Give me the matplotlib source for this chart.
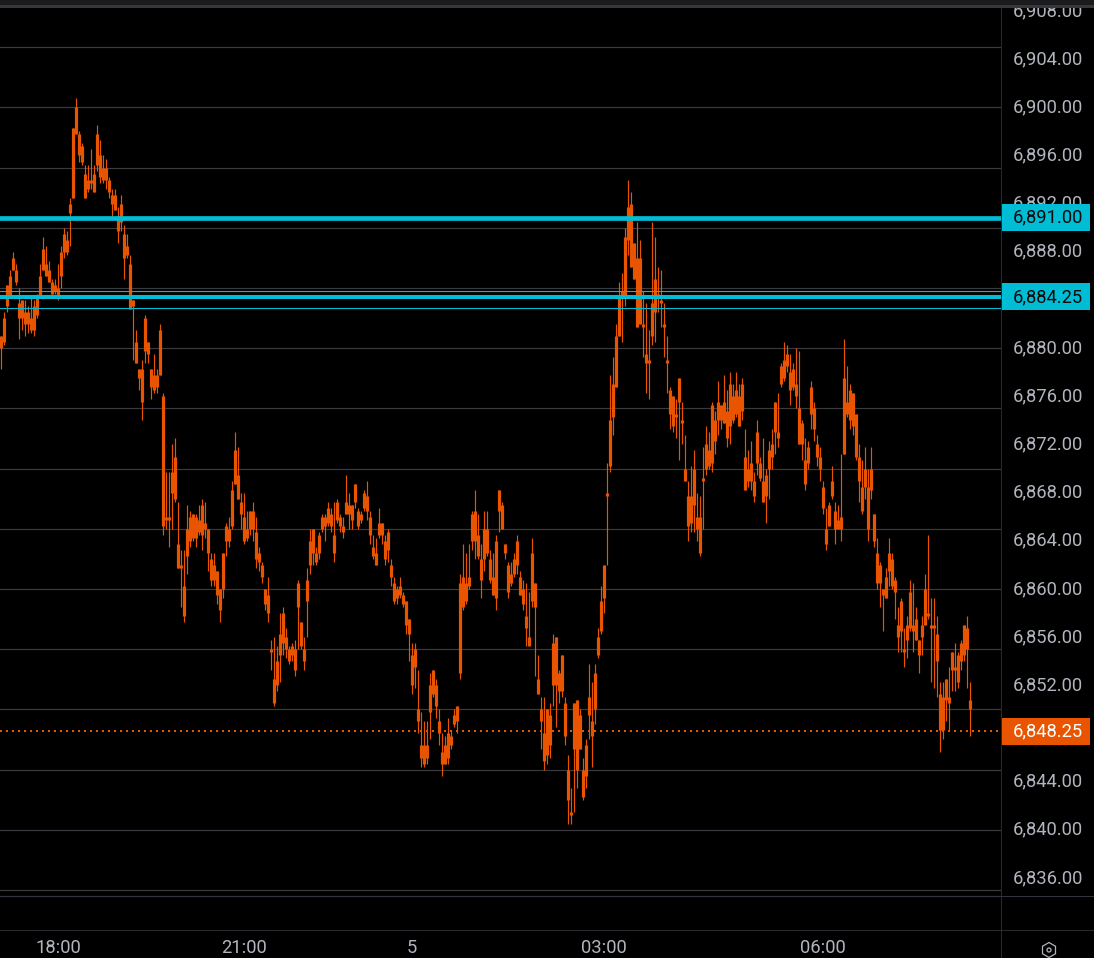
import numpy as np
import matplotlib
matplotlib.use('Agg')
import matplotlib.pyplot as plt
from matplotlib.patches import Rectangle, RegularPolygon, Circle
from matplotlib.transforms import IdentityTransform, blended_transform_factory

# prices are stored as points above this level
base_price = 6800

high = [
    81, 83, 85.25, 86.5, 88, 87, 85, 84, 84, 83.5,
    84.25, 84, 84.5, 87, 89.25, 88.5, 87.25, 85.75, 85.75, 87,
    88.5, 90, 89.75, 92.5, 98.25, 100.75, 98, 97, 95.25, 95.25,
    96.5, 95.25, 98.5, 97.25, 96, 95.75, 94.25, 93.25, 93.25, 91.75,
    92.75, 90.25, 89.5, 87.75, 84, 81.5, 78.25, 79, 82.75, 80.5,
    78.25, 79.5, 78.25, 82, 76.25, 69.75, 69.75, 72, 72.5, 67.25,
    63.25, 63.25, 67, 66.5, 66.25, 66.25, 67, 67.5, 67.25, 65,
    63, 63, 61.5, 60, 63, 65.5, 66, 69, 73, 71.75,
    68, 68, 66.5, 66.5, 67.25, 66, 63.5, 62.25, 60, 61,
    55.75, 56, 55.25, 58, 58.5, 56.75, 55.25, 55.5, 55.75, 60.75,
    57.25, 56, 61.75, 65, 65, 63.5, 64.75, 66.25, 66.25, 67.25,
    66.75, 67.25, 67.5, 66.25, 66, 69.5, 68, 67, 68.75, 66.75,
    66.5, 68.25, 69, 66.5, 64.5, 64.25, 66.75, 65.5, 64.5, 65,
    62.5, 61, 60.25, 61, 59.75, 59, 57.5, 55.5, 55.5, 53.25,
    49.75, 49, 49, 53, 53.25, 52.5, 50, 48, 47.75, 49.25,
    48.25, 50, 50.25, 61.25, 63.75, 63, 63.75, 66.5, 68.25, 66.25,
    63.75, 66.5, 66.5, 63.25, 63, 64.5, 68.25, 67.25, 63.75, 62.25,
    62.25, 63, 64.5, 61.5, 60.75, 60.5, 59.75, 64.25, 60.5, 54.5,
    51, 51, 50, 50.5, 56.25, 56, 53.25, 54.5, 51, 46.25,
    43.5, 50.5, 50.75, 50, 46, 47.5, 53.75, 52.25, 53.75, 56.75,
    60.25, 62, 70.5, 77.75, 79.25, 82, 85.5, 86.25, 90, 94,
    93, 88.75, 90.5, 89, 84.75, 83.75, 81.5, 90.5, 89.25, 86.75,
    86.5, 83.75, 81, 76.75, 76, 75.75, 77.5, 75.5, 72.75, 69,
    70.25, 71.5, 68, 67.75, 71.75, 73.5, 73, 75.5, 74.75, 77.25,
    75.25, 77.75, 76.5, 78, 77, 78, 77, 77.5, 73.25, 71.5,
    72.25, 69.75, 74, 71, 72.5, 70, 72.25, 73.25, 75.5, 76.25,
    78.75, 80.5, 80.25, 79.5, 78.75, 80, 79.75, 74, 72.5, 72.25,
    77.25, 75.5, 72.75, 71.75, 69, 66.75, 67.25, 70.25, 67.25, 67,
    71.25, 80.75, 78.5, 77, 76.25, 74.5, 72, 70.75, 71.75, 70,
    71.75, 66.25, 64.25, 62.25, 60, 61.75, 64.25, 63, 61, 58.5,
    59.25, 56.75, 57.75, 60.75, 60.5, 58.5, 55.75, 57.75, 61.25, 64.5,
    59.25, 59.25, 57.75, 52.25, 52.25, 52.5, 53.5, 54.75, 55.5, 54.75,
    55.75, 57, 57.75, 52.25,
]

low = [
    78.25, 80.25, 83, 84.25, 86.5, 85.25, 80.75, 81.5, 81, 81.25,
    81.25, 81, 82.5, 84.25, 86.5, 86, 85.5, 84.5, 84.5, 84,
    85, 87.5, 87.75, 88.5, 92.5, 97.75, 95.5, 95.25, 92.5, 93,
    93.25, 93, 94.75, 93.75, 93.75, 93.25, 92.5, 91, 91.5, 88.75,
    89.75, 85.75, 87.5, 83.25, 79, 78.75, 76.5, 74, 78.75, 78.75,
    75.75, 76.25, 76.25, 77.75, 64.5, 65, 63.5, 65, 67.25, 61.75,
    58.5, 57.25, 61.25, 63.5, 64, 63.5, 64.5, 63.25, 64.25, 61.5,
    60.25, 60.25, 58.75, 57.25, 59.25, 62.75, 63.5, 65, 68.75, 67.5,
    65, 63.75, 64, 64.5, 64, 61.75, 61.5, 60.5, 58.25, 57.25,
    53.25, 50.25, 51.5, 52.25, 54.5, 54.25, 53.75, 54, 52.75, 55,
    55, 53.25, 56, 61.25, 62, 62, 62.5, 64.75, 64, 65.25,
    64.75, 62.25, 65.5, 64.75, 64.25, 66.25, 65, 65, 66.75, 65,
    65.5, 66.5, 65.75, 63.75, 62.5, 62, 64.25, 63.75, 62, 62.25,
    60.25, 58.75, 58.75, 59.25, 58.5, 56.25, 54, 51.25, 51.75, 48,
    45.25, 45.25, 45.5, 47.5, 51, 49.25, 47, 44.5, 45.5, 45.5,
    46.75, 48.5, 48, 52.5, 58.25, 58.75, 60, 63.25, 62.5, 62.5,
    59.25, 61.5, 62.75, 60.5, 59.5, 58.25, 64.75, 65, 62.5, 59.25,
    60.25, 61, 61.25, 59.5, 58.25, 55.25, 55.5, 58.5, 52.75, 51.25,
    46.75, 45, 45.5, 46, 50.25, 48.5, 50.5, 51, 47, 40.5,
    40.5, 41.5, 43.5, 46.75, 42.5, 43.5, 47.5, 45.25, 48.75, 54.25,
    56.25, 58, 62, 69.75, 72.75, 76.75, 81, 80.5, 83.5, 87.75,
    86.75, 85.75, 81.75, 82, 79.25, 76.25, 75.75, 80.25, 80.5, 83,
    81.75, 79.25, 76.25, 73.25, 73, 72.5, 70.75, 72, 69, 64,
    64.75, 64.75, 64, 62.75, 65, 69.5, 70, 69.75, 71.25, 72.75,
    73.25, 73.75, 71.75, 72, 73.75, 74.25, 73.5, 74, 68.25, 68.5,
    68.25, 67.25, 69.5, 69, 67.25, 65.5, 67.5, 70, 71.25, 71.75,
    76.75, 77.25, 78, 75.25, 76.5, 75, 72, 70.75, 68.25, 70,
    73.25, 72.25, 70.25, 69, 66.25, 63.25, 65.25, 67.5, 63.75, 65,
    64, 71.25, 74.25, 73.25, 72.75, 70.75, 67.25, 66.25, 67.5, 64,
    67.5, 63.5, 60, 58.5, 56.5, 59.25, 60.25, 60, 57.5, 54.75,
    54.75, 53.5, 54.25, 56.5, 54.75, 55.75, 53, 54.5, 57, 57.5,
    52.25, 51.75, 51, 46.5, 47.5, 49, 48.25, 51.5, 51.5, 51.75,
    53.25, 54, 51.75, 47.75,
]

body_top = [
    81, 82.5, 85.25, 86, 87.5, 86.5, 83.75, 84, 83, 83,
    82.5, 83.5, 84.25, 86, 88.25, 87, 86.5, 85.5, 85.25, 85,
    88, 89.5, 89, 92, 98.25, 100, 97.75, 96.75, 94.5, 94,
    94, 94.5, 97.75, 96, 95, 95, 94, 92.75, 92.75, 91,
    92, 89.5, 88.5, 87, 84, 80.5, 78.25, 78.25, 82.5, 80.5,
    78.25, 77.75, 77.75, 81.5, 76, 66, 66, 69.75, 71, 63.75,
    62, 60.25, 65, 66, 66.25, 66, 65.75, 67, 65.5, 65,
    62.5, 62, 61.5, 60, 63, 65.25, 65, 68.25, 71.5, 69.5,
    67.25, 66, 65, 66.5, 66.5, 64.75, 63, 62, 60, 59.5,
    55, 52.5, 54, 56.25, 58, 56, 55, 55.25, 55, 60.5,
    57.25, 55, 60.75, 64, 65, 63, 64.5, 66, 66, 66.75,
    66.25, 64.5, 67.25, 66, 65.25, 67.25, 67, 67, 68.75, 66.5,
    66.25, 68, 67.75, 66, 63.5, 63, 65.5, 65.5, 64, 64.75,
    62, 60.5, 60, 60.25, 59.5, 59, 57.5, 54.5, 55, 50,
    47, 47, 47, 52, 53.25, 52, 49, 46.5, 47, 48,
    47.75, 49.5, 50.25, 60.5, 61, 60.5, 61, 66.25, 66.5, 64.5,
    62.5, 65, 65, 62.5, 61, 64, 68.25, 67, 63.75, 62,
    61.25, 62.5, 64, 61, 60, 57.75, 56, 63, 60.5, 52.5,
    50, 48, 50, 49.5, 55.5, 56, 53, 54.5, 50.5, 45,
    41.5, 50.5, 50.75, 49.5, 45, 47, 51, 49, 53, 56,
    59, 62, 68, 74, 77, 81, 84.25, 84.75, 89.25, 91.75,
    92, 88.75, 87.5, 87.5, 82, 79.5, 79, 83.75, 85.75, 84.5,
    84, 82, 79, 76.5, 76, 74.5, 77.5, 74, 70, 67.75,
    67.75, 70, 66, 66, 69.25, 72, 71.5, 75.25, 74, 75.5,
    75.25, 75.5, 74.75, 77, 76, 76.5, 76, 77, 71, 70,
    70.5, 69, 73, 70.5, 69, 69.5, 71.5, 72, 75.5, 73,
    78.5, 79, 79.5, 78, 78.25, 77, 75, 73.75, 70.75, 71.75,
    76.75, 75, 72, 71, 68.5, 65, 67, 69, 66.5, 65.75,
    66, 77.5, 75.5, 76.5, 76.25, 74.5, 71, 68.5, 70, 68.5,
    70, 66.25, 63, 62, 60, 61, 63, 62.5, 60.75, 57,
    59, 55, 57, 59.75, 57, 57.5, 55.75, 57, 60, 58,
    57, 57, 56.25, 51.25, 51, 52.5, 51, 54.75, 53.5, 54.5,
    55.5, 57, 56.75, 50.75,
]

body_bottom = [
    80, 80.5, 83.5, 84.25, 86.5, 85.5, 82.5, 82.5, 82, 82,
    81.5, 81.5, 82.75, 84.25, 86.5, 86, 85.5, 84.5, 84.75, 84.25,
    86, 88, 88, 91.25, 92.5, 97.75, 96, 95.5, 92.5, 93.25,
    93.75, 93, 95.25, 94.25, 94, 94, 93, 92, 91.5, 89.75,
    90.5, 87.5, 87.75, 83.25, 83.5, 78.75, 77.5, 75.5, 79.75, 79.5,
    76.75, 76.5, 76.75, 77.75, 65.25, 65.75, 65.75, 68, 67.5, 61.75,
    61.75, 57.75, 62.75, 64, 64.25, 64.25, 64.75, 64.5, 65, 63,
    60.75, 60.75, 59.5, 58.25, 60, 64, 64, 65.25, 68.75, 67.5,
    66.25, 64, 64.25, 65, 65, 62.5, 62.25, 61, 58.75, 58,
    54.75, 50.5, 52, 54.5, 55.5, 55, 54, 54.5, 53.25, 58.5,
    55.25, 54, 59, 62, 63, 62.25, 63, 65, 65.25, 65.5,
    65.25, 63, 65.75, 65.25, 64.75, 66.25, 66.25, 65.75, 67.25, 65.25,
    65.75, 66.75, 66.5, 64.5, 62.75, 62, 64.5, 64.5, 62.5, 63.25,
    61, 59, 59.25, 59.5, 58.75, 57, 56.25, 52, 53.5, 49,
    46, 45.5, 46, 49.75, 51.25, 50.25, 48, 45.5, 45.5, 46,
    47, 48.75, 49, 53, 58.5, 59, 60.25, 64, 64, 62.75,
    60.75, 62.5, 63, 60.75, 59.5, 59.25, 66.5, 65, 63, 59.75,
    60.5, 61.25, 62, 59.5, 58.75, 56.75, 55.25, 59, 58.5, 51.25,
    49, 45.75, 46.25, 47, 52, 52, 51.5, 51.5, 47.75, 42.5,
    41.25, 46.75, 45, 46.75, 42.75, 44.5, 49.5, 47.75, 50, 54.5,
    56.5, 59.25, 67.75, 70.25, 74.25, 76.75, 81, 84.25, 84.25, 89,
    86.75, 85.75, 81.75, 82, 81.75, 78.75, 78.75, 81, 83, 84.25,
    83.75, 81.75, 78.75, 74.5, 73.5, 74.25, 75.5, 73.75, 69, 65.25,
    65.5, 67, 65, 63, 69, 70, 70.25, 70.5, 72.25, 74,
    74, 73.75, 72.5, 73.5, 74, 74.5, 73.5, 74.75, 68.25, 69,
    69, 67.75, 70.5, 69.25, 67.25, 67.75, 70, 71, 73, 72.5,
    77, 77.5, 78.5, 76.5, 76.75, 76, 72, 72, 68.75, 70.5,
    74.5, 73.25, 71, 70, 66.75, 63.75, 65.25, 67.75, 65, 65,
    65, 71.25, 74.5, 74, 73.5, 71, 69, 66.5, 68.5, 65,
    68.25, 64, 60.5, 60.5, 59.5, 59.25, 61.5, 60.25, 59.75, 56,
    56.5, 54.75, 55.75, 56.75, 56.5, 55.75, 54.5, 56, 57, 57.75,
    56.75, 56.75, 54, 48.25, 48.25, 50.75, 50.5, 53.25, 53.25, 52.25,
    54, 54.5, 55, 50,
]

price_ticks = list(range(6836, 6912, 4))
grid_levels = list(range(6835, 6910, 5))
time_ticks = [19, 81, 137, 201, 274]
time_labels = ['18:00', '21:00', '5', '03:00', '06:00']
thick_levels = [6890.85, 6884.25]
thin_levels = [6884.75, 6883.35]
tag_levels = [6890.85, 6884.25, 6848.2]
tag_labels = ['6,891.00', '6,884.25', '6,848.25']

orange = '#e85400'
cyan = '#00bcd4'
grid_col = '#3a3a40'
text_col = '#b2b5be'
pane_line = '#2a2a2e'

plt.rcParams['font.family'] = ['Roboto', 'DejaVu Sans']

W, H = 1094, 958
fig = plt.figure(figsize=(W / 100, H / 100), dpi=100, facecolor='black')
ax = fig.add_axes([0, 1 - 896 / H, 1001 / W, 888 / H], facecolor='black')

x = np.arange(len(high))
ax.vlines(x, base_price + np.array(low), base_price + np.array(high),
          color=orange, lw=0.85, zorder=2)
ax.vlines(x, base_price + np.array(body_bottom), base_price + np.array(body_top),
          color=orange, lw=2.3, zorder=2)

for lev in grid_levels:
    ax.axhline(lev, color=grid_col, lw=0.85, zorder=1)
for lev in thick_levels:
    ax.axhline(lev, color=cyan, lw=3.4 if lev > 6890 else 2.9, zorder=3)
for lev in thin_levels:
    ax.axhline(lev, color=cyan, lw=0.8, zorder=3)
ax.axhline(tag_levels[2], color=orange, lw=1.44, ls=(0, (1, 2)), zorder=3)

ax.set_xlim(-1 / 3, 1000 / 3)
ax.set_ylim(6834.5, 6908.25)
ax.yaxis.tick_right()
ax.set_yticks(price_ticks)
ax.set_yticklabels([f'{p:,.2f}' for p in price_ticks], va='center')
ax.set_xticks(time_ticks)
ax.set_xticklabels(time_labels)
ax.tick_params(axis='y', length=0, pad=8.5, labelsize=13.2, labelcolor=text_col)
ax.tick_params(axis='x', length=0, pad=31, labelsize=13.2, labelcolor=text_col)
for side in ['top', 'left', 'right']:
    ax.spines[side].set_visible(False)
ax.spines['bottom'].set_color('#3a3a45')
ax.spines['bottom'].set_linewidth(0.85)

# price tags sit on top of the axis labels
trans = blended_transform_factory(ax.transAxes, ax.transData)
for lev, lab, face, col in zip(tag_levels, tag_labels, [cyan, cyan, orange],
                               ['#0b0b0b', '#0b0b0b', '#ffffff']):
    ax.add_patch(Rectangle((1.0012, lev - 1.12), 0.0879, 2.24, transform=trans,
                           facecolor=face, edgecolor='none', clip_on=False, zorder=5))
    ax.text(1.0469, lev, lab, transform=trans, ha='center', va='center',
            color=col, fontsize=13.2, zorder=6, clip_on=False)

# pane borders and the top bar, in pixels
px = IdentityTransform()
fig.add_artist(Rectangle((1000.6, 0), 1, H, transform=px, facecolor=pane_line, edgecolor='none', zorder=4))
fig.add_artist(Rectangle((0, H - 931), W, 1, transform=px, facecolor=pane_line, edgecolor='none', zorder=4))
fig.add_artist(Rectangle((0, H - 896.5), W, 1, transform=px, facecolor='#34343c', edgecolor='none', zorder=4))
fig.add_artist(Rectangle((0, H - 5), W, 5, transform=px, facecolor='#1b1b1d', edgecolor='none', zorder=7))
fig.add_artist(Rectangle((0, H - 8), W, 3, transform=px, facecolor='#37373b', edgecolor='none', zorder=7))

# settings icon
fig.add_artist(RegularPolygon((1049, H - 950), 6, radius=7.5, transform=px, fill=False,
                              edgecolor=text_col, lw=0.9, zorder=7))
fig.add_artist(Circle((1049, H - 950), 2, transform=px, fill=False,
                      edgecolor=text_col, lw=0.9, zorder=7))

fig.savefig('out.png', dpi=100, facecolor='black')
